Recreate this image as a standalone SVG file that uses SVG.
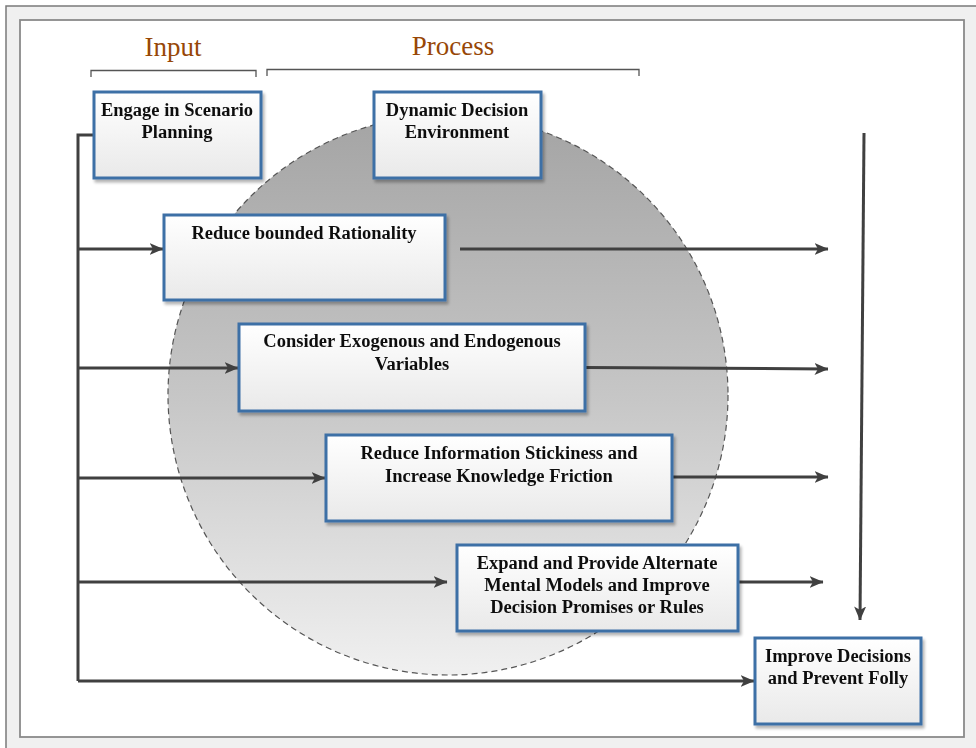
<svg xmlns="http://www.w3.org/2000/svg" width="976" height="748" viewBox="0 0 976 748">
  <defs>
    <linearGradient id="discFill" x1="0" y1="0" x2="0" y2="1">
      <stop offset="0" stop-color="#a4a4a4"/>
      <stop offset="0.5" stop-color="#c6c6c6"/>
      <stop offset="1" stop-color="#f0f0f0"/>
    </linearGradient>
    <linearGradient id="boxFill" x1="0" y1="0" x2="0" y2="1">
      <stop offset="0" stop-color="#ffffff"/>
      <stop offset="1" stop-color="#e9e9e9"/>
    </linearGradient>
    <filter id="shadow" x="-5%" y="-5%" width="115%" height="125%">
      <feGaussianBlur in="SourceAlpha" stdDeviation="1.5"/>
      <feOffset dx="2" dy="3" result="b"/>
      <feComponentTransfer><feFuncA type="linear" slope="0.3"/></feComponentTransfer>
      <feMerge><feMergeNode/><feMergeNode in="SourceGraphic"/></feMerge>
    </filter>
    <marker id="arrow" viewBox="0 0 14 12" refX="13.5" refY="6" markerWidth="14" markerHeight="12" markerUnits="userSpaceOnUse" orient="auto">
      <path d="M0,0 L14,6 L0,12 L3.5,6 Z" fill="#404040"/>
    </marker>
    <style>
      .node rect { fill: url(#boxFill); stroke: #3d6fa6; stroke-width: 3; }
      .node text { font-family: "Liberation Serif", "Times New Roman", serif; font-weight: bold; font-size: 18.5px; fill: #111; text-anchor: middle; }
      .heading { font-family: "Liberation Serif", "Times New Roman", serif; font-size: 27px; fill: #974706; text-anchor: middle; }
      .bracket { fill: none; stroke: #555; stroke-width: 1.3; }
      .conn { fill: none; stroke: #404040; stroke-width: 3; }
      .conn .arr { marker-end: url(#arrow); }
    </style>
  </defs>

  <!-- page background and frame -->
  <rect x="0" y="0" width="976" height="748" fill="#ffffff"/>
  <rect x="6" y="6" width="976" height="748" fill="#f0f0f0" stroke="#7a7a7a" stroke-width="1.5"/>
  <rect x="20" y="20" width="944" height="717" fill="#ffffff" stroke="#8a8a8a" stroke-width="1.8"/>

  <!-- headings with brackets -->
  <text class="heading" x="173" y="56">Input</text>
  <text class="heading" x="453" y="55">Process</text>
  <path class="bracket" d="M91,77 V70.5 H256 V77"/>
  <path class="bracket" d="M267,76 V69.5 H639 V76"/>

  <!-- decision environment disc -->
  <circle cx="448" cy="395" r="280" fill="url(#discFill)" stroke="#555" stroke-width="1.2" stroke-dasharray="6 4"/>

  <!-- connectors -->
  <g id="connectors" class="conn">
    <path d="M93,135 H78 V681"/>
    <path class="arr" d="M78,681 H754"/>
    <path class="arr" d="M78,249 H163"/>
    <path class="arr" d="M78,368 H238"/>
    <path class="arr" d="M78,478 H325"/>
    <path class="arr" d="M78,582 H447"/>
    <path class="arr" d="M460,249 H828"/>
    <path class="arr" d="M585,367.5 L828,369"/>
    <path class="arr" d="M672,477 H828"/>
    <path class="arr" d="M738,582 H823"/>
    <path class="arr" d="M864,133 L860,620"/>
  </g>

  <!-- nodes -->
  <g id="scenario-planning" class="node" filter="url(#shadow)">
    <rect x="94" y="92" width="167" height="86"/>
    <text x="177" y="116">Engage in Scenario</text>
    <text x="177" y="138">Planning</text>
  </g>
  <g id="dynamic-environment" class="node" filter="url(#shadow)">
    <rect x="374" y="92" width="167" height="86"/>
    <text x="457" y="116">Dynamic Decision</text>
    <text x="457" y="138">Environment</text>
  </g>
  <g id="bounded-rationality" class="node" filter="url(#shadow)">
    <rect x="164" y="215" width="281" height="85"/>
    <text x="304" y="239">Reduce bounded Rationality</text>
  </g>
  <g id="variables" class="node" filter="url(#shadow)">
    <rect x="239" y="324" width="346" height="87"/>
    <text x="412" y="347">Consider Exogenous and Endogenous</text>
    <text x="412" y="370">Variables</text>
  </g>
  <g id="information-stickiness" class="node" filter="url(#shadow)">
    <rect x="326" y="435" width="346" height="86"/>
    <text x="499" y="459">Reduce Information Stickiness and</text>
    <text x="499" y="482">Increase Knowledge Friction</text>
  </g>
  <g id="mental-models" class="node" filter="url(#shadow)">
    <rect x="457" y="545" width="281" height="86"/>
    <text x="597" y="569">Expand and Provide Alternate</text>
    <text x="597" y="591">Mental Models and Improve</text>
    <text x="597" y="613">Decision Promises or Rules</text>
  </g>
  <g id="improve-decisions" class="node" filter="url(#shadow)">
    <rect x="755" y="638" width="166" height="86"/>
    <text x="838" y="662">Improve Decisions</text>
    <text x="838" y="684">and Prevent Folly</text>
  </g>
</svg>
